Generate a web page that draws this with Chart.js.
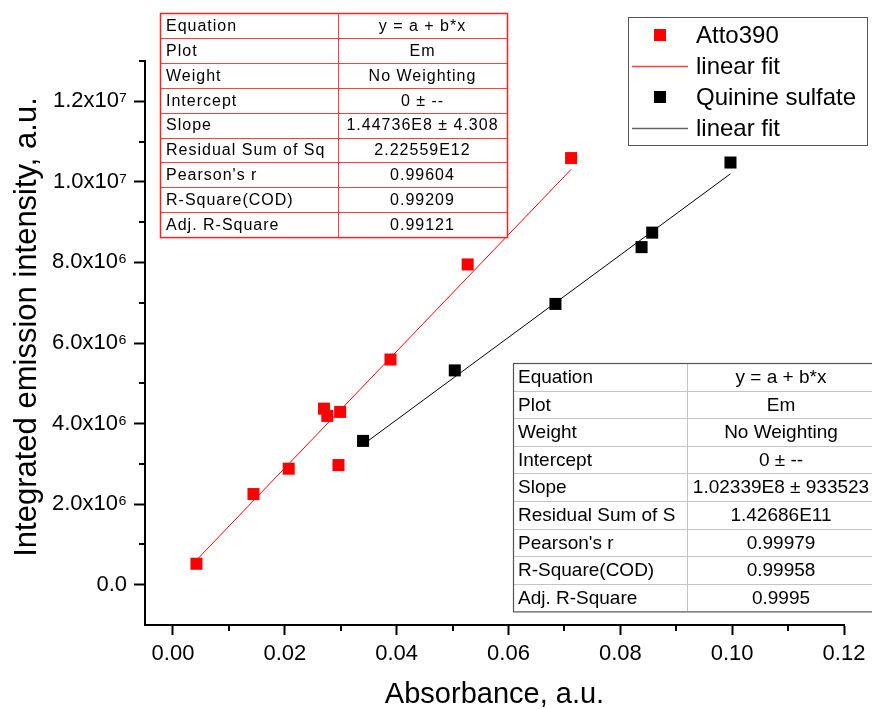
<!DOCTYPE html>
<html><head><meta charset="utf-8">
<script src="https://cdn.jsdelivr.net/npm/chart.js@4"></script>
<style>html,body{margin:0;padding:0;background:#fff;overflow:hidden}canvas{display:block}</style>
</head><body>
<canvas id="c" width="872" height="709"></canvas>
<script>
// ---- data ----
const attoX = [0.0042, 0.0144, 0.0207, 0.0270, 0.0276, 0.0299, 0.0296, 0.0389, 0.0527, 0.0712];
const attoY = [0.52e6, 2.25e6, 2.88e6, 4.37e6, 4.19e6, 4.29e6, 2.97e6, 5.59e6, 7.95e6, 10.59e6];
const quinX = [0.0340, 0.0504, 0.0684, 0.0838, 0.0857, 0.0997];
const quinY = [3.57e6, 5.32e6, 6.97e6, 8.38e6, 8.74e6, 10.48e6];
const attoFitX = [0.0042, 0.0712];
const attoFitY = [0.61e6, 10.31e6];
const quinFitX = [0.0340, 0.0997];
const quinFitY = [3.48e6, 10.20e6];

const seriesLabels = ['Atto390', 'linear fit', 'Quinine sulfate', 'linear fit'];

const xTickValues = [0, 0.01, 0.02, 0.03, 0.04, 0.05, 0.06, 0.07, 0.08, 0.09, 0.10, 0.11, 0.12];
const xTickLabels = ['0.00', '', '0.02', '', '0.04', '', '0.06', '', '0.08', '', '0.10', '', '0.12'];
const yTickValues = [-1e6, 0, 1e6, 2e6, 3e6, 4e6, 5e6, 6e6, 7e6, 8e6, 9e6, 10e6, 11e6, 12e6, 13e6];
const yTickLabels = ['', '0.0', '', '2.0x10\u2076', '', '4.0x10\u2076', '', '6.0x10\u2076', '', '8.0x10\u2076', '', '1.0x10\u2077', '', '1.2x10\u2077', ''];

const xTitle = 'Absorbance, a.u.';
const yTitle = 'Integrated emission intensity, a.u.';

const tableRowNames1 = ['Equation', 'Plot', 'Weight', 'Intercept', 'Slope', 'Residual Sum of Sq', "Pearson's r", 'R-Square(COD)', 'Adj. R-Square'];
const tableValues1 = ['y = a + b*x', 'Em', 'No Weighting', '0 \u00b1 --', '1.44736E8 \u00b1 4.308', '2.22559E12', '0.99604', '0.99209', '0.99121'];
const tableRowNames2 = ['Equation', 'Plot', 'Weight', 'Intercept', 'Slope', 'Residual Sum of S', "Pearson's r", 'R-Square(COD)', 'Adj. R-Square'];
const tableValues2 = ['y = a + b*x', 'Em', 'No Weighting', '0 \u00b1 --', '1.02339E8 \u00b1 933523', '1.42686E11', '0.99979', '0.99958', '0.9995'];

const FONT = '"Liberation Sans", Arial, sans-serif';
const pts = (xs, ys) => xs.map((x, i) => ({x: x, y: ys[i]}));

function drawTable(ctx, names, vals, x, y, w1, w2, rh, o) {
  const n = names.length;
  ctx.save();
  ctx.fillStyle = '#fff';
  ctx.fillRect(x, y, w1 + w2, rh * n);
  ctx.strokeStyle = o.inner; ctx.lineWidth = 1;
  ctx.beginPath();
  for (let i = 1; i < n; i++) {
    const yy = Math.round(y + i * rh) + 0.5;
    ctx.moveTo(x, yy); ctx.lineTo(x + w1 + w2, yy);
  }
  ctx.moveTo(x + w1 + 0.5, y); ctx.lineTo(x + w1 + 0.5, y + rh * n);
  ctx.stroke();
  ctx.strokeStyle = o.outer; ctx.lineWidth = o.outerW;
  ctx.strokeRect(x + 0.5, y + 0.5, w1 + w2, rh * n);
  ctx.fillStyle = '#000';
  ctx.font = o.font;
  ctx.textBaseline = 'middle';
  if ('letterSpacing' in ctx) ctx.letterSpacing = o.ls;
  for (let i = 0; i < n; i++) {
    const cy = y + (i + 0.5) * rh + 1;
    ctx.textAlign = 'left';
    ctx.fillText(names[i], x + o.pad, cy);
    ctx.textAlign = 'center';
    ctx.fillText(vals[i], x + w1 + w2 / 2, cy);
  }
  ctx.restore();
}

const decor = {
  id: 'decor',
  afterDraw(chart) {
    const ctx = chart.ctx;
    const xs = chart.scales.x, ys = chart.scales.y;
    // minor ticks
    ctx.save();
    ctx.strokeStyle = '#000'; ctx.lineWidth = 2;
    ctx.beginPath();
    xTickValues.forEach((v, i) => {
      if (xTickLabels[i] === '') {
        const px = Math.round(xs.getPixelForValue(v));
        ctx.moveTo(px, xs.top); ctx.lineTo(px, xs.top + 6);
      }
    });
    yTickValues.forEach((v, i) => {
      if (yTickLabels[i] === '' && i > 0) {
        const py = Math.round(ys.getPixelForValue(v));
        ctx.moveTo(ys.right, py); ctx.lineTo(ys.right - 6, py);
      }
    });
    ctx.stroke();
    ctx.restore();

    // y axis title
    ctx.save();
    ctx.translate(27, 327);
    ctx.rotate(-Math.PI / 2);
    ctx.font = '31px ' + FONT;
    ctx.fillStyle = '#000';
    ctx.textAlign = 'center';
    ctx.textBaseline = 'middle';
    ctx.fillText(yTitle, 0, 0);
    ctx.restore();

    // tables
    drawTable(ctx, tableRowNames1, tableValues1, 160, 13, 178, 169, 24.9,
      {inner: '#ff4040', outer: '#ff2020', outerW: 1.5, font: '16px ' + FONT, ls: '1px', pad: 6});
    drawTable(ctx, tableRowNames2, tableValues2, 513, 363, 174, 188, 27.6,
      {inner: '#c4c4c4', outer: '#555', outerW: 1.2, font: '19px ' + FONT, ls: '0px', pad: 5});

    // legend
    ctx.save();
    ctx.fillStyle = '#fff';
    ctx.fillRect(628, 17, 239, 128);
    ctx.strokeStyle = '#555'; ctx.lineWidth = 1;
    ctx.strokeRect(628.5, 17.5, 239, 128);
    const rowsY = [35, 66, 97, 128];
    const ds = chart.data.datasets;
    ctx.font = '24px ' + FONT;
    ctx.textBaseline = 'middle';
    ctx.textAlign = 'left';
    rowsY.forEach((yy, i) => {
      const d = ds[i];
      if (d.showLine) {
        ctx.strokeStyle = i === 3 ? '#666' : '#ff4040';
        ctx.lineWidth = 1.5;
        ctx.beginPath(); ctx.moveTo(632, yy + 0.5); ctx.lineTo(688, yy + 0.5); ctx.stroke();
      } else {
        ctx.fillStyle = d.backgroundColor;
        ctx.fillRect(654, yy - 6, 12, 12);
      }
      ctx.fillStyle = '#000';
      ctx.fillText(d.label, 696, yy + 1);
    });
    ctx.restore();
  }
};

new Chart(document.getElementById('c'), {
  type: 'scatter',
  data: {
    datasets: [
      {label: seriesLabels[0], data: pts(attoX, attoY), backgroundColor: '#ff0000', borderColor: '#ff0000',
       pointStyle: 'rect', pointRadius: 8.5, borderWidth: 0, showLine: false, order: 1},
      {label: seriesLabels[1], data: pts(attoFitX, attoFitY), borderColor: '#ff0000', backgroundColor: '#ff0000',
       showLine: true, pointRadius: 0, borderWidth: 1, order: 2},
      {label: seriesLabels[2], data: pts(quinX, quinY), backgroundColor: '#000000', borderColor: '#000000',
       pointStyle: 'rect', pointRadius: 8.5, borderWidth: 0, showLine: false, order: 1},
      {label: seriesLabels[3], data: pts(quinFitX, quinFitY), borderColor: '#000000', backgroundColor: '#000000',
       showLine: true, pointRadius: 0, borderWidth: 1, order: 2}
    ]
  },
  options: {
    responsive: false,
    devicePixelRatio: 1,
    animation: false,
    events: [],
    layout: {padding: {top: 61, right: 28, left: 0, bottom: 0}},
    plugins: {legend: {display: false}, tooltip: {enabled: false}},
    scales: {
      x: {
        type: 'linear', min: -0.005, max: 0.12,
        afterBuildTicks: s => { s.ticks = xTickValues.map(v => ({value: v})); },
        afterFit: s => { s.height = 84; },
        ticks: {autoSkip: false, maxRotation: 0, padding: 6, color: '#000',
                font: {family: FONT, size: 22},
                callback: (v, i) => xTickLabels[i]},
        grid: {drawOnChartArea: false, drawTicks: true, tickLength: 10, tickWidth: 2,
               tickColor: c => xTickLabels[c.index] ? '#000' : 'rgba(0,0,0,0)'},
        border: {display: true, color: '#000', width: 2},
        title: {display: true, text: xTitle, color: '#000', font: {family: FONT, size: 29, lineHeight: 1},
                padding: {top: 0, bottom: 0}}
      },
      y: {
        type: 'linear', min: -1e6, max: 1.3e7,
        afterBuildTicks: s => { s.ticks = yTickValues.map(v => ({value: v})); },
        afterFit: s => { s.width = 145; },
        ticks: {autoSkip: false, padding: 7, color: '#000',
                font: {family: FONT, size: 22},
                callback: (v, i) => yTickLabels[i]},
        grid: {drawOnChartArea: false, drawTicks: true, tickLength: 11, tickWidth: 2,
               tickColor: c => yTickLabels[c.index] ? '#000' : 'rgba(0,0,0,0)'},
        border: {display: true, color: '#000', width: 2}
      }
    }
  },
  plugins: [decor]
});
</script>
</body></html>
